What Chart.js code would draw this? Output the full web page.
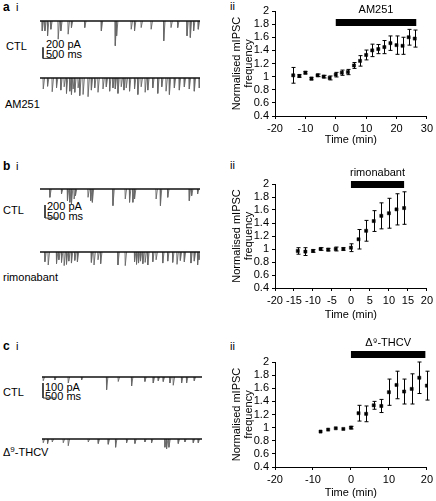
<!DOCTYPE html>
<html>
<head>
<meta charset="utf-8">
<script src="https://cdn.jsdelivr.net/npm/chart.js@4.4.1/dist/chart.umd.min.js"></script>
<style>
  body { margin: 0; background: #fff; }
  #fig { position: relative; width: 436px; height: 501px; overflow: hidden;
         font-family: "Liberation Sans", Arial, sans-serif; color: #000; }
  #fig canvas { position: absolute; }
  .lbl { position: absolute; font-size: 11px; line-height: 12px; white-space: nowrap; transform: translateY(-50%); }
  .pl { font-weight: bold; font-size: 12px; }
  sup { font-size: 8px; vertical-align: 4px; line-height: 0; }
</style>
</head>
<body>
<div id="fig">
  <span class="lbl pl" style="left:3px;top:7px">a</span><span class="lbl" style="left:16px;top:7px">i</span>
  <span class="lbl" style="left:230px;top:6px">ii</span>
  <span class="lbl" style="left:6px;top:46px">CTL</span>
  <span class="lbl" style="left:46px;top:44px">200 pA</span>
  <span class="lbl" style="left:46px;top:54px">500 ms</span>
  <span class="lbl" style="left:5px;top:104px">AM251</span>

  <span class="lbl pl" style="left:3px;top:166px">b</span><span class="lbl" style="left:16px;top:166px">i</span>
  <span class="lbl" style="left:230px;top:165px">ii</span>
  <span class="lbl" style="left:3px;top:210px">CTL</span>
  <span class="lbl" style="left:47px;top:206px">200 pA</span>
  <span class="lbl" style="left:47px;top:216px">500 ms</span>
  <span class="lbl" style="left:3px;top:277px">rimonabant</span>

  <span class="lbl pl" style="left:3px;top:346px">c</span><span class="lbl" style="left:16px;top:346px">i</span>
  <span class="lbl" style="left:230px;top:346px">ii</span>
  <span class="lbl" style="left:3px;top:392px">CTL</span>
  <span class="lbl" style="left:45px;top:387px">100 pA</span>
  <span class="lbl" style="left:45px;top:396px">500 ms</span>
  <span class="lbl" style="left:3px;top:452px">&Delta;<sup>9</sup>-THCV</span>

  <canvas id="trA1" width="160" height="46" style="left:40px;top:15px"></canvas>
  <canvas id="trA2" width="160" height="30" style="left:40px;top:72px"></canvas>
  <canvas id="trB1" width="160" height="40" style="left:40px;top:183px"></canvas>
  <canvas id="trB2" width="160" height="30" style="left:40px;top:246px"></canvas>
  <canvas id="trC1" width="160" height="30" style="left:42px;top:371px"></canvas>
  <canvas id="trC2" width="160" height="30" style="left:42px;top:433px"></canvas>

  <canvas id="freqA" width="210" height="150" style="left:226px;top:0px"></canvas>
  <canvas id="freqB" width="210" height="165" style="left:226px;top:160px"></canvas>
  <canvas id="freqC" width="210" height="171" style="left:226px;top:330px"></canvas>
</div>
<script>
// ---- normalised mIPSC frequency (mean, sem) ----
const timeA = [-14, -12, -10, -8, -6, -4, -2, 0, 2, 4, 6, 8, 10, 12, 14, 16, 18, 20, 22, 24, 26];
const freqA = [1.02, 1.01, 1.06, 0.97, 1.02, 1.0, 0.98, 1.03, 1.06, 1.07, 1.17, 1.24, 1.33, 1.40, 1.42, 1.45, 1.51, 1.48, 1.47, 1.60, 1.58];
const semA  = [0.12, 0.02, 0.02, 0.02, 0.02, 0.02, 0.03, 0.035, 0.04, 0.04, 0.045, 0.08, 0.075, 0.095, 0.07, 0.1, 0.11, 0.14, 0.13, 0.12, 0.13];

const timeB = [-14, -12, -10, -8, -6, -4, -2, 0, 2, 4, 6, 8, 10, 12, 14];
const freqB = [0.97, 0.96, 0.97, 1.0, 0.99, 1.0, 1.0, 1.02, 1.15, 1.28, 1.43, 1.51, 1.55, 1.61, 1.63];
const semB  = [0.05, 0.06, 0.02, 0.02, 0.02, 0.03, 0.02, 0.06, 0.15, 0.16, 0.16, 0.2, 0.23, 0.24, 0.25];

const timeC = [-8, -6, -4, -2, 0, 2, 4, 6, 8, 10, 12, 14, 16, 18, 20];
const freqC = [0.94, 0.97, 0.99, 0.98, 1.0, 1.22, 1.21, 1.34, 1.33, 1.54, 1.65, 1.55, 1.59, 1.76, 1.64];
const semC  = [0, 0, 0, 0, 0.02, 0.12, 0.12, 0.06, 0.1, 0.2, 0.21, 0.19, 0.23, 0.24, 0.22];

const yTicks  = [0.4, 0.6, 0.8, 1, 1.2, 1.4, 1.6, 1.8, 2];
const xTicksA = [-20, -10, 0, 10, 20, 30];
const xTicksB = [-20, -15, -10, -5, 0, 5, 10, 15, 20];
const xTicksC = [-20, -10, 0, 10, 20];

// drug application periods (min)
const periodA = [0, 26.5];
const periodB = [0, 14];
const periodC = [0, 19.6];

// ---- example current traces: event time (ms) and amplitude (pA) ----
const TRACE_MS = 6150;
const ctlA_t  = [77, 179, 281, 408, 689, 791, 1072, 1199, 1710, 2348, 2884, 2935, 3496, 3624, 3879, 4262, 4747, 5027, 5283, 5640, 5768, 5895, 6074];
const ctlA_pA = [180, 180, 270, 150, 330, 180, 240, 120, 120, 180, 450, 270, 150, 180, 120, 150, 360, 120, 120, 270, 300, 180, 150];
const am251_t  = [115, 281, 459, 625, 791, 919, 1008, 1136, 1199, 1263, 1327, 1455, 1518, 1646, 1837, 1965, 2093, 2220, 2412, 2539,
                  2667, 2794, 2884, 2986, 3113, 3216, 3305, 3432, 3624, 3751, 3879, 4032, 4134, 4326, 4517, 4670, 4836, 4964, 5155, 5346,
                  5538, 5729, 5921, 6112];
const am251_pA = [200, 150, 250, 180, 220, 160, 280, 240, 300, 200, 260, 180, 320, 300, 340, 220, 180, 260, 200, 160,
                  240, 180, 200, 280, 160, 220, 180, 240, 200, 300, 160, 260, 220, 180, 280, 160, 240, 300, 180, 220,
                  160, 200, 240, 180];
const ctlB_t  = [370, 817, 1046, 1136, 1199, 1302, 1353, 1837, 1940, 2003, 2794, 3267, 3432, 3560, 3624, 4453, 4619, 4900, 5729, 5819, 6048];
const ctlB_pA = [128, 77, 180, 205, 230, 154, 103, 128, 180, 205, 256, 154, 205, 205, 154, 154, 256, 128, 180, 103, 77];
const rimo_t  = [179, 306, 625, 715, 817, 919, 1008, 1097, 1199, 1327, 1429, 1965, 2067, 2220, 2322, 2986, 3267, 3624,
                 3700, 3777, 3853, 3943, 4032, 4134, 4326, 4453, 4709, 4900, 5091, 5257, 5385, 5538, 5793, 5921, 6048, 6100];
const rimo_pA = [150, 200, 180, 120, 160, 210, 190, 140, 170, 130, 150, 160, 200, 120, 180, 200, 210, 150,
                 190, 170, 140, 180, 160, 200, 150, 120, 170, 140, 160, 190, 130, 150, 170, 140, 200, 120];
const ctlC_t  = [38, 487, 999, 1512, 2473, 2921, 3434, 3946, 4267, 4459, 4651, 4907, 5035, 5356, 5548, 5843];
const ctlC_pA = [25, 20, 40, 20, 85, 30, 60, 30, 40, 25, 30, 40, 55, 40, 40, 25];
const thcv_t  = [38, 205, 384, 807, 999, 1768, 2153, 2537, 2819, 3242, 3562, 3946, 4203, 4715, 4779, 4869, 5228, 5484, 5805, 5997];
const thcv_pA = [25, 30, 20, 25, 45, 20, 30, 35, 55, 25, 30, 20, 25, 55, 65, 55, 30, 20, 25, 25];

const FONT = '"Liberation Sans", Arial, sans-serif';

// ---- trace drawing ----
function spikePoints(times, amps) {
  const pts = [];
  times.forEach((t, i) => {
    pts.push({x: t, y: 0}, {x: t + 10, y: -amps[i]}, {x: t + 60, y: 0}, {x: t + 60, y: null});
  });
  return pts;
}

function traceChart(id, times, amps, pxPerPA, bar) {
  const cv = document.getElementById(id);
  const baseY = 6;
  const yMax = baseY / pxPerPA;
  const yMin = -(cv.height - baseY) / pxPerPA;
  const datasets = [
    { data: [{x: 0, y: 0}, {x: TRACE_MS, y: 0}], borderColor: '#111', borderWidth: 1.6 },
    { data: spikePoints(times, amps), borderColor: '#666', borderWidth: 0.9, spanGaps: false }
  ];
  if (bar) {
    datasets.push({
      data: [{x: bar.x, y: bar.y + bar.pA}, {x: bar.x, y: bar.y}, {x: bar.x + bar.ms, y: bar.y}],
      borderColor: '#333', borderWidth: 1
    });
  }
  new Chart(cv, {
    type: 'line',
    data: { datasets: datasets },
    options: {
      responsive: false, animation: false, devicePixelRatio: 1,
      elements: { point: { radius: 0 }, line: { tension: 0 } },
      layout: { padding: 0 },
      plugins: { legend: { display: false }, tooltip: { enabled: false } },
      scales: {
        x: { type: 'linear', display: false, min: 0, max: TRACE_MS },
        y: { display: false, min: yMin, max: yMax }
      }
    }
  });
}

traceChart('trA1', ctlA_t, ctlA_pA, 0.055, { x: 115, y: -680, pA: 200, ms: 500 });
traceChart('trA2', am251_t, am251_pA, 0.055);
traceChart('trB1', ctlB_t, ctlB_pA, 0.065, { x: 192, y: -446, pA: 200, ms: 500 });
traceChart('trB2', rimo_t, rimo_pA, 0.065);
traceChart('trC1', ctlC_t, ctlC_pA, 0.15, { x: 38, y: -140, pA: 100, ms: 500 });
traceChart('trC2', thcv_t, thcv_pA, 0.15);

// ---- frequency panels ----
const errorBars = {
  id: 'errorBars',
  afterDatasetsDraw(chart) {
    const {ctx, scales: {x, y}} = chart;
    chart.data.datasets.forEach(ds => {
      if (!ds.sem) return;
      ctx.save();
      ctx.strokeStyle = '#000';
      ctx.lineWidth = 1;
      ds.data.forEach((p, i) => {
        const e = ds.sem[i];
        if (!e) return;
        const px = Math.round(x.getPixelForValue(p.x)) + 0.5;
        const yt = y.getPixelForValue(p.y + e);
        const yb = y.getPixelForValue(p.y - e);
        ctx.beginPath();
        ctx.moveTo(px, yt); ctx.lineTo(px, yb);
        ctx.moveTo(px - 2, yt); ctx.lineTo(px + 2, yt);
        ctx.moveTo(px - 2, yb); ctx.lineTo(px + 2, yb);
        ctx.stroke();
      });
      ctx.restore();
    });
  }
};

const drugBar = {
  id: 'drugBar',
  afterDraw(chart, args, opts) {
    const x = chart.scales.x, ctx = chart.ctx;
    const x0 = x.getPixelForValue(opts.from);
    const x1 = x.getPixelForValue(opts.to);
    ctx.save();
    ctx.fillStyle = '#000';
    ctx.fillRect(x0, opts.barY, x1 - x0, 7);
    ctx.font = '11px ' + FONT;
    ctx.textAlign = 'center';
    ctx.textBaseline = 'middle';
    ctx.fillText(opts.label, (x0 + x1) / 2, opts.labelY);
    ctx.restore();
  }
};

function freqChart(id, times, freq, sem, xTicks, drug, period, lay) {
  new Chart(document.getElementById(id), {
    type: 'scatter',
    data: {
      datasets: [{
        data: times.map((t, i) => ({x: t, y: freq[i]})),
        sem: sem,
        backgroundColor: '#000', borderColor: '#000', borderWidth: 0.5,
        pointStyle: 'rect', pointRadius: 2.2
      }]
    },
    options: {
      responsive: false, animation: false, devicePixelRatio: 1,
      layout: { padding: { top: lay.top, right: lay.right, bottom: lay.bottom, left: 0 } },
      plugins: {
        legend: { display: false }, tooltip: { enabled: false },
        drugBar: { label: drug, from: period[0], to: period[1], barY: lay.barY, labelY: lay.labelY }
      },
      scales: {
        x: {
          type: 'linear', min: xTicks[0], max: xTicks[xTicks.length - 1],
          afterBuildTicks: s => { s.ticks = xTicks.map(v => ({value: v})); },
          afterFit: s => { s.height = lay.xH; },
          border: { color: '#000', width: 1 },
          grid: { drawOnChartArea: false, color: '#000', tickLength: 3 },
          ticks: { color: '#000', padding: 3, maxRotation: 0, autoSkip: false, font: { family: FONT, size: 11 } },
          title: { display: true, text: 'Time (min)', color: '#000', padding: 0, font: { family: FONT, size: 11 } }
        },
        y: {
          min: 0.4, max: 2,
          afterBuildTicks: s => { s.ticks = yTicks.map(v => ({value: v})); },
          afterFit: s => { s.width = 49; },
          border: { color: '#000', width: 1 },
          grid: { drawOnChartArea: false, color: '#000', tickLength: 3 },
          ticks: { color: '#000', padding: 3, autoSkip: false, font: { family: FONT, size: 11 },
                   callback: v => String(Math.round(v * 10) / 10) },
          title: { display: true, text: ['Normalised mIPSC', 'frequency'], color: '#000',
                   padding: { top: 4.5, bottom: 0 }, font: { family: FONT, size: 11, lineHeight: 1.1 } }
        }
      }
    },
    plugins: [errorBars, drugBar]
  });
}

freqChart('freqA', timeA, freqA, semA, xTicksA, 'AM251', periodA,
  { top: 11, right: 9, bottom: 3, xH: 31, barY: 19, labelY: 10 });
freqChart('freqB', timeB, freqB, semB, xTicksB, 'rimonabant', periodB,
  { top: 24, right: 7, bottom: 3, xH: 34, barY: 21, labelY: 13 });
freqChart('freqC', timeC, freqC, semC, xTicksC, '\u0394\u2079-THCV', periodC,
  { top: 32, right: 7, bottom: 1, xH: 33, barY: 21, labelY: 13 });
</script>
</body>
</html>
